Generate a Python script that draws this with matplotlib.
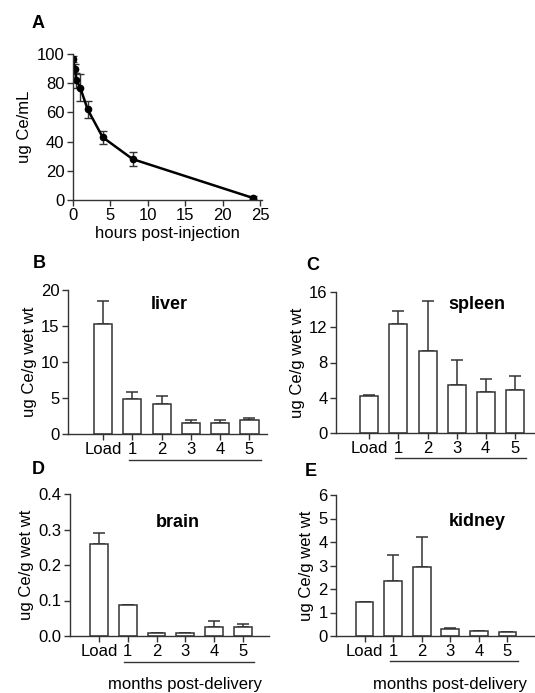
import matplotlib
matplotlib.use('Agg')
import matplotlib.pyplot as plt
import matplotlib.transforms as mtransforms
import numpy as np

plt.rcParams['font.family'] = ['Liberation Sans', 'DejaVu Sans']

# ── Data ──
hours = [0.083, 0.25, 0.5, 1, 2, 4, 8, 24]
blood = [96.5, 90, 82, 77, 62, 43, 28, 1.5]
blood_err = [2, 3, 5, 9.5, 6, 4.5, 5, 1]

cats = ['Load', '1', '2', '3', '4', '5']
liver = [15.3, 4.8, 4.2, 1.5, 1.5, 1.9]
liver_err = [3.2, 1.0, 1.1, 0.5, 0.5, 0.3]
spleen = [4.2, 12.4, 9.3, 5.4, 4.7, 4.9]
spleen_err = [0.1, 1.4, 5.7, 2.9, 1.4, 1.6]
brain = [0.26, 0.088, 0.008, 0.008, 0.025, 0.024]
brain_err = [0.03, 0.0, 0.0, 0.0, 0.017, 0.009]
kidney = [1.43, 2.35, 2.92, 0.30, 0.20, 0.17]
kidney_err = [0.03, 1.1, 1.3, 0.04, 0.0, 0.0]

W, H = 535, 693
fig = plt.figure(figsize=(W / 100, H / 100), dpi=100, facecolor='white')
LC = '#333333'
FS = 12
LFS = 13  # panel letters / organ names


def add_ax(x0, y_top, x1, y_bot):
    return fig.add_axes([x0 / W, 1 - y_bot / H, (x1 - x0) / W, (y_bot - y_top) / H])


def style(ax):
    for s in ['top', 'right']:
        ax.spines[s].set_visible(False)
    for s in ['left', 'bottom']:
        ax.spines[s].set_color(LC)
        ax.spines[s].set_linewidth(1.0)
    ax.tick_params(direction='out', length=4, width=1.0, color=LC,
                   labelsize=FS, pad=2)


# ── Panel A ──
axA = add_ax(72.7, 54, 261.5, 200)
axA.errorbar(hours, blood, yerr=blood_err, color='black', lw=1.8,
             marker='o', ms=4.5, capsize=3, elinewidth=1.0, ecolor=LC)
axA.set_xlim(0, 25.2)
axA.set_ylim(0, 100)
axA.set_xticks([0, 5, 10, 15, 20, 25])
axA.set_yticks([0, 20, 40, 60, 80, 100])
axA.set_ylabel('ug Ce/mL', fontsize=FS, labelpad=3)
axA.set_xlabel('hours post-injection', fontsize=FS, labelpad=2)
style(axA)
fig.text(32 / W, 1 - 24 / H, 'A', fontsize=LFS, fontweight='bold', va='center')


def bar_panel(box, xlim, vals, errs, ylim, yticks, yfmt, organ, organ_xy, letter,
              letter_pos, xlabel=False):
    ax = add_ax(*box)
    x = np.arange(len(cats))
    ax.bar(x, vals, width=0.62, color='white', edgecolor=LC, linewidth=1.1, zorder=2)
    ax.errorbar(x, vals, yerr=[np.zeros(len(vals)), errs], fmt='none',
                ecolor=LC, elinewidth=1.1, capsize=4.5, capthick=1.1, zorder=1)
    ax.set_xlim(*xlim)
    ax.set_ylim(*ylim)
    ax.set_yticks(yticks)
    ax.set_yticklabels([yfmt.format(t) for t in yticks])
    ax.set_xticks(x)
    ax.set_xticklabels(cats)
    ax.set_ylabel('ug Ce/g wet wt', fontsize=FS, labelpad=3)
    style(ax)
    ax.text(organ_xy[0], organ_xy[1], organ, transform=ax.transAxes, fontsize=LFS,
            fontweight='bold', ha='center', va='center')
    trans = mtransforms.blended_transform_factory(ax.transData, ax.transAxes)
    ax.plot([0.88, 5.38], [-0.18, -0.18], transform=trans, color=LC, lw=1.0,
            clip_on=False)
    if xlabel:
        ax.text(3.0, -0.345, 'months post-delivery', transform=trans,
                fontsize=FS, ha='center', va='center', clip_on=False)
    fig.text(letter_pos[0] / W, 1 - letter_pos[1] / H, letter, fontsize=LFS,
             fontweight='bold', va='center')
    return ax


bar_panel((68, 290, 267, 434), (-1.2, 5.6), liver, liver_err, (0, 20),
          [0, 5, 10, 15, 20], '{:g}', 'liver', (0.51, 0.9), 'B', (33, 263))
bar_panel((336, 292, 535, 433), (-1.15, 5.7), spleen, spleen_err, (0, 16),
          [0, 4, 8, 12, 16], '{:g}', 'spleen', (0.71, 0.91), 'C', (306, 265))
bar_panel((70, 494, 269, 636), (-1.0, 5.9), brain, brain_err, (0, 0.4),
          [0, 0.1, 0.2, 0.3, 0.4], '{:.1f}', 'brain', (0.54, 0.80), 'D', (32, 470),
          xlabel=True)
bar_panel((336, 495, 536, 636), (-1.0, 6.0), kidney, kidney_err, (0, 6),
          [0, 1, 2, 3, 4, 5, 6], '{:g}', 'kidney', (0.705, 0.81), 'E', (305, 472),
          xlabel=True)

plt.savefig('out.png', dpi=100, facecolor='white')
plt.close()
